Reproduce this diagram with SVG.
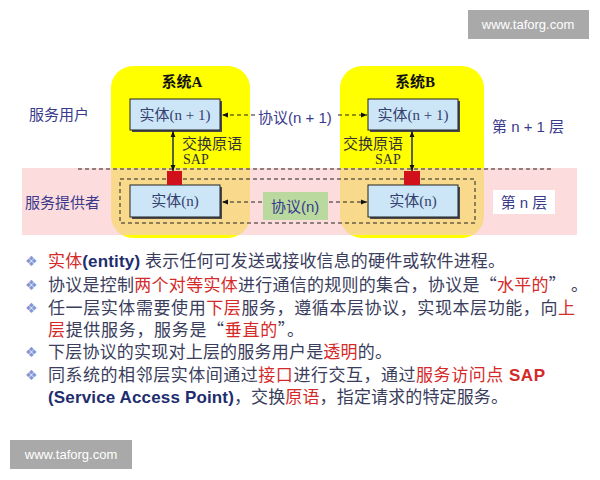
<svg xmlns="http://www.w3.org/2000/svg" width="600" height="480" viewBox="0 0 600 480">
<defs>
<style>
.lbl{font-family:"Liberation Sans","Noto Sans CJK SC",sans-serif;fill:#3a3a8c;font-size:15px}
.ent{font-family:"Liberation Serif","Noto Sans CJK SC",serif;fill:#34406e;font-size:15px}
.sys{font-family:"Liberation Serif","Noto Sans CJK SC",serif;fill:#111;font-size:15px;font-weight:bold}
.prim{font-family:"Liberation Sans","Noto Sans CJK SC",sans-serif;fill:#333;font-size:15px}
.sap{font-family:"Liberation Serif",serif;fill:#333;font-size:14px}
.body{font-family:"Liberation Sans","Noto Sans CJK SC",sans-serif;fill:#3a3d5c;font-size:17px}
.q{font-family:"Noto Sans CJK SC",sans-serif}
.red{fill:#d42a2a}
.nb{fill:#1e2d6e;font-weight:bold}
.bul{font-family:"DejaVu Sans",sans-serif;fill:#8596d6;font-size:14px}
.wm{font-family:"Liberation Sans",sans-serif;fill:#fff;font-size:13px}
.dash{stroke:#222;stroke-width:1;stroke-dasharray:4 3;fill:none}
.shadow{fill:#4a4a4a}
.box{fill:#cde6f7;stroke:#222;stroke-width:1}
</style>
<marker id="ah" viewBox="0 0 10 10" refX="10" refY="5" markerWidth="6" markerHeight="6" orient="auto-start-reverse" markerUnits="userSpaceOnUse"><path d="M0,1 L10,5 L0,9 z" fill="#111"/></marker>
<clipPath id="band"><rect x="0" y="168" width="600" height="67"/></clipPath>
</defs>

<!-- background layers -->
<rect x="0" y="0" width="600" height="480" fill="#fff"/>
<g id="systemA-bg"><rect x="111" y="66" width="139" height="172" rx="22" fill="#ffff00"/></g>
<g id="systemB-bg"><rect x="340" y="66" width="144" height="172" rx="22" fill="#ffff00"/></g>
<rect x="22" y="168" width="555" height="67" fill="#fcdcdc"/>
<g clip-path="url(#band)">
<rect x="111" y="66" width="139" height="172" rx="22" fill="#f9d98c"/>
<rect x="340" y="66" width="144" height="172" rx="22" fill="#f9d98c"/>
</g>
<line x1="78" y1="169" x2="553" y2="169" class="dash"/>
<rect x="120" y="179" width="355" height="44" fill="#96be78" fill-opacity="0.38" class="dash"/>
<rect x="263" y="192" width="65" height="28" fill="#b9d99f"/>

<!-- labels -->
<g id="systemA-label"><text x="182" y="87" text-anchor="middle" class="sys">系统A</text></g>
<g id="systemB-label"><text x="415" y="87" text-anchor="middle" class="sys">系统B</text></g>
<g id="service-user"><text x="29" y="120" class="lbl">服务用户</text></g>
<g id="service-provider"><text x="25" y="208" class="lbl">服务提供者</text></g>
<g id="layer-n1"><text x="492" y="132" class="lbl">第 n + 1 层</text></g>
<g id="layer-n"><rect x="493" y="190" width="62" height="24" fill="#fff"/><text x="524" y="208" text-anchor="middle" class="lbl">第 n 层</text></g>

<!-- entity nodes -->
<g id="entityA-n1"><rect x="132" y="101" width="90" height="31" class="shadow"/><rect x="130" y="99" width="90" height="31" class="box"/><text x="175" y="120" text-anchor="middle" class="ent">实体(n + 1)</text></g>
<g id="entityA-n"><rect x="132" y="187" width="90" height="32" class="shadow"/><rect x="130" y="185" width="90" height="32" class="box"/><text x="175" y="206" text-anchor="middle" class="ent">实体(n)</text></g>
<g id="entityB-n1"><rect x="370" y="101" width="90" height="31" class="shadow"/><rect x="368" y="99" width="90" height="31" class="box"/><text x="413" y="120" text-anchor="middle" class="ent">实体(n + 1)</text></g>
<g id="entityB-n"><rect x="370" y="187" width="90" height="32" class="shadow"/><rect x="368" y="185" width="90" height="32" class="box"/><text x="413" y="206" text-anchor="middle" class="ent">实体(n)</text></g>

<!-- SAP points -->
<g id="sapA"><rect x="167" y="171" width="15" height="14" fill="#d0101a"/></g>
<g id="sapB"><rect x="404" y="171" width="16" height="14" fill="#d0101a"/></g>

<!-- connectors -->
<g id="connectors">
<line x1="173" y1="131" x2="173" y2="171" stroke="#234" stroke-width="1.5" marker-start="url(#ah)" marker-end="url(#ah)"/>
<line x1="412" y1="131" x2="412" y2="171" stroke="#234" stroke-width="1.5" marker-start="url(#ah)" marker-end="url(#ah)"/>
<line x1="255" y1="115" x2="222" y2="115" class="dash" marker-end="url(#ah)"/>
<line x1="338" y1="115" x2="367" y2="115" class="dash" marker-end="url(#ah)"/>
<line x1="262" y1="202" x2="222" y2="202" class="dash" marker-end="url(#ah)"/>
<line x1="329" y1="202" x2="367" y2="202" class="dash" marker-end="url(#ah)"/>
</g>

<g id="primA"><text x="182" y="149" class="prim">交换原语</text><text x="183" y="164" class="sap">SAP</text></g>
<g id="primB"><text x="343" y="149" class="prim">交换原语</text><text x="375" y="164" class="sap">SAP</text></g>
<g id="proto-n1"><text x="258" y="123" class="lbl">协议(n + 1)</text></g>
<g id="proto-n"><text x="271" y="212" class="lbl">协议(n)</text></g>

<!-- bullet text -->
<g id="notes">
<text x="25" y="266" class="bul">❖</text>
<text x="25" y="290" class="bul">❖</text>
<text x="25" y="313" class="bul">❖</text>
<text x="25" y="357" class="bul">❖</text>
<text x="25" y="380" class="bul">❖</text>
<text x="48" y="267" class="body" textLength="457" lengthAdjust="spacing"><tspan class="red">实体</tspan><tspan class="nb">(entity)</tspan> 表示任何可发送或接收信息的硬件或软件进程。</text>
<text x="48" y="291" class="body" textLength="540" lengthAdjust="spacing">协议是控制<tspan class="red">两个对等实体</tspan>进行通信的规则的集合，协议是<tspan class="q">“</tspan><tspan class="red">水平的</tspan><tspan class="q">”</tspan> 。</text>
<text x="48" y="314" class="body" textLength="527" lengthAdjust="spacing">任一层实体需要使用<tspan class="red">下层</tspan>服务，遵循本层协议，实现本层功能，向<tspan class="red">上</tspan></text>
<text x="48" y="336" class="body" textLength="256" lengthAdjust="spacing"><tspan class="red">层</tspan>提供服务，服务是<tspan class="q">“</tspan><tspan class="red">垂直的</tspan><tspan class="q">”</tspan>。</text>
<text x="48" y="358" class="body" textLength="344" lengthAdjust="spacing">下层协议的实现对上层的服务用户是<tspan class="red">透明</tspan>的。</text>
<text x="48" y="381" class="body" textLength="497" lengthAdjust="spacing">同系统的相邻层实体间通过<tspan class="red">接口</tspan>进行交互，通过<tspan class="red">服务访问点 </tspan><tspan class="red" font-weight="bold">SAP</tspan></text>
<text x="48" y="403" class="body" textLength="460" lengthAdjust="spacing"><tspan class="nb">(Service Access Point)</tspan>，交换<tspan class="red">原语</tspan>，指定请求的特定服务。</text>
</g>

<!-- watermarks -->
<rect x="468" y="10" width="121" height="29" fill="#a9a9a9"/>
<text x="528" y="29" text-anchor="middle" class="wm">www.taforg.com</text>
<rect x="10" y="440" width="122" height="29" fill="#a9a9a9"/>
<text x="71" y="459" text-anchor="middle" class="wm">www.taforg.com</text>
</svg>
